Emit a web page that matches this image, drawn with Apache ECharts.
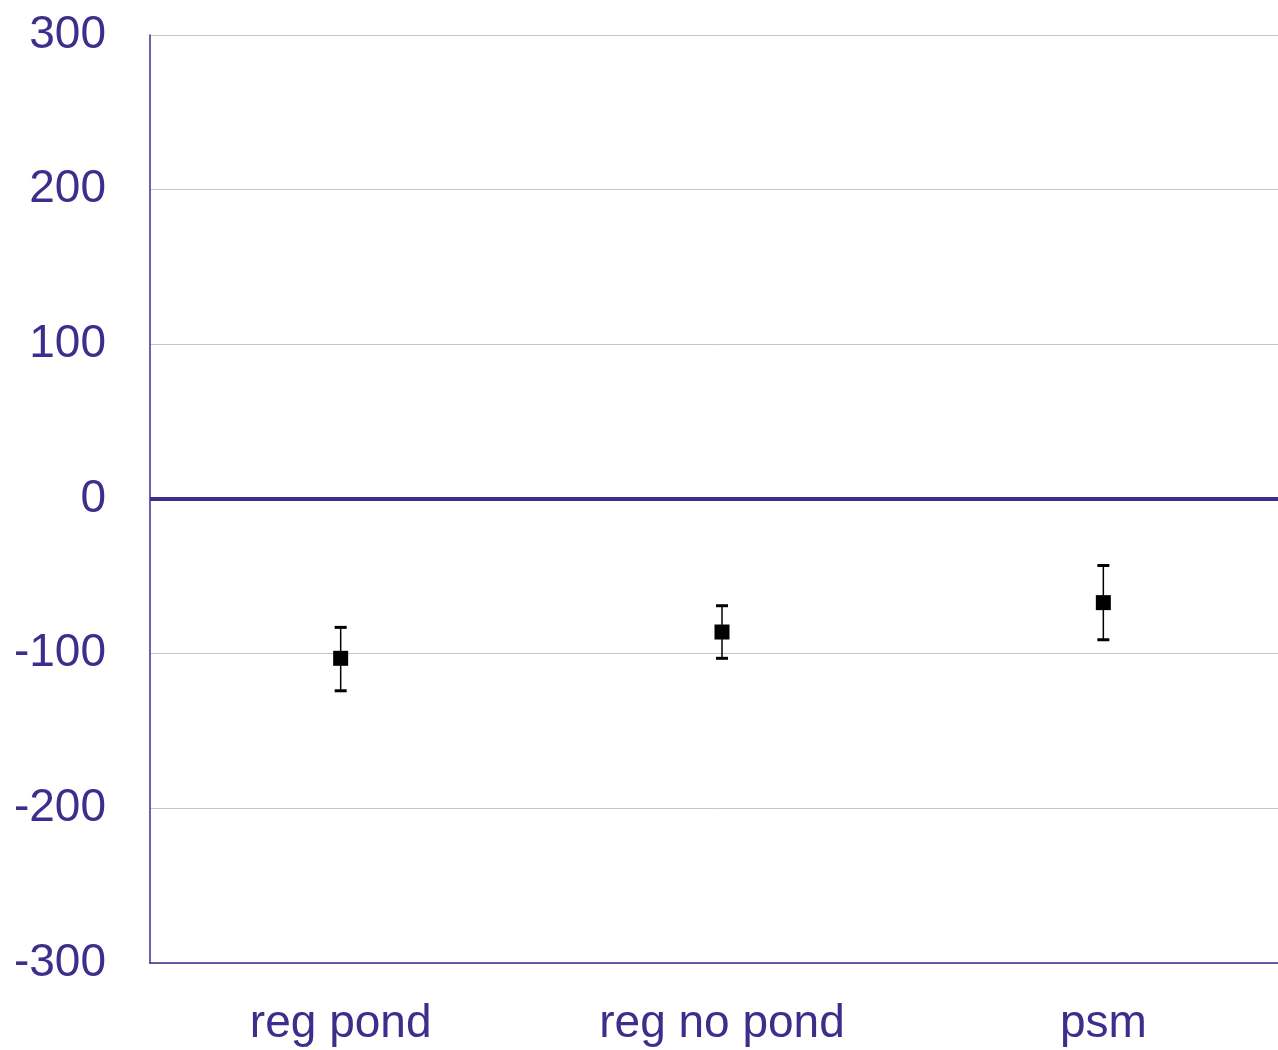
<!DOCTYPE html>
<html><head><meta charset="utf-8">
<script src="https://cdn.jsdelivr.net/npm/echarts@6/dist/echarts.min.js"></script>
<style>html,body{margin:0;padding:0;background:#fff}#c{width:1278px;height:1050px}</style>
</head><body><div id="c"></div>
<script>
const categories = ['reg pond', 'reg no pond', 'psm'];
const estimates = [-103, -86, -67];
const lower = [-124, -103, -91];
const upper = [-83, -69, -43];
const yTicks = [-300, -200, -100, 0, 100, 200, 300];

const purple = '#3d2e8c';
const font = 'Liberation Sans';
const chart = echarts.init(document.getElementById('c'));
const data = categories.map((c, i) => [i, estimates[i], lower[i], upper[i]]);
chart.setOption({
  animation: false,
  grid: { left: 150, top: 35, bottom: 87, width: 1144, outerBoundsMode: 'none', containLabel: false },
  xAxis: {
    type: 'category', data: categories,
    axisLine: { onZero: false, lineStyle: { color: purple, width: 1.5 } },
    axisTick: { show: false },
    axisLabel: { color: purple, fontSize: 46, fontFamily: font, margin: 38 }
  },
  yAxis: {
    type: 'value', min: yTicks[0], max: yTicks[yTicks.length - 1], interval: 100,
    axisLine: { show: true, lineStyle: { color: purple, width: 1.5 } },
    axisTick: { show: false },
    splitLine: { lineStyle: { color: '#c4c4c4', width: 1 } },
    axisLabel: { color: purple, fontSize: 46, fontFamily: font, margin: 44, padding: [4, 0, 0, 0] }
  },
  series: [{
    type: 'custom',
    data: data,
    encode: { x: 0, y: 1 },
    renderItem: function (params, api) {
      const x = api.value(0);
      const c = api.coord([x, api.value(1)]);
      const lo = api.coord([x, api.value(2)]);
      const hi = api.coord([x, api.value(3)]);
      const s = 15, cap = 6;
      return {
        type: 'group',
        children: [
          { type: 'line', shape: { x1: c[0], y1: lo[1], x2: c[0], y2: hi[1] }, style: { stroke: '#000', lineWidth: 1.5 } },
          { type: 'line', shape: { x1: c[0] - cap, y1: lo[1], x2: c[0] + cap, y2: lo[1] }, style: { stroke: '#000', lineWidth: 3 } },
          { type: 'line', shape: { x1: c[0] - cap, y1: hi[1], x2: c[0] + cap, y2: hi[1] }, style: { stroke: '#000', lineWidth: 3 } },
          { type: 'rect', shape: { x: c[0] - s / 2, y: c[1] - s / 2, width: s, height: s }, style: { fill: '#000' } }
        ]
      };
    },
    markLine: {
      silent: true, symbol: 'none', label: { show: false },
      lineStyle: { color: purple, width: 4, type: 'solid' },
      data: [{ yAxis: 0 }]
    },
    z: 5
  }]
});
</script></body></html>
